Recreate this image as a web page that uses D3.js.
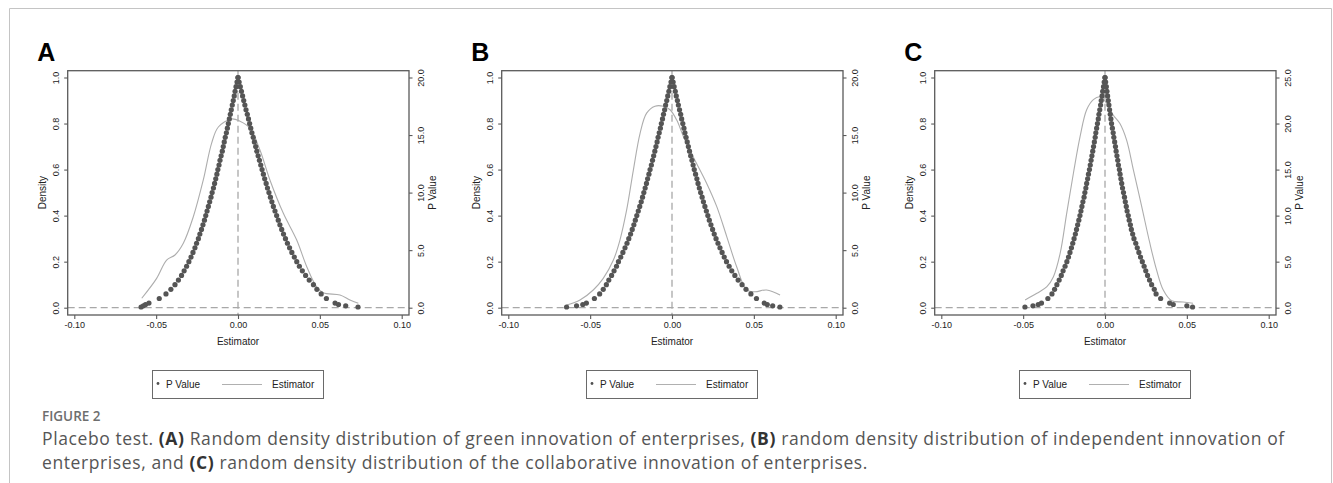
<!DOCTYPE html>
<html><head><meta charset="utf-8">
<script src="https://cdn.jsdelivr.net/npm/d3@7"></script>
<style>body{margin:0;background:#fff;}svg{display:block;}</style>
</head><body>
<svg id="c" width="1333" height="483"></svg>
<script>
// ---------------- data ----------------
const panelLabels = ["A", "B", "C"];
const xTicks = [-0.10, -0.05, 0.00, 0.05, 0.10];
const xTickLabels = ["-0.10", "-0.05", "0.00", "0.05", "0.10"];
const leftTicks = [0, 0.2, 0.4, 0.6, 0.8, 1.0];
const leftTickLabels = ["0.0", "0.2", "0.4", "0.6", "0.8", "1.0"];
const rightTicksAB = [0, 5, 10, 15, 20];
const rightTicksC = [0, 5, 10, 15, 20, 25];
const rightMax = [20, 20, 25];

// P values of the placebo regressions (shared levels); estimator values read off each branch
const pLevels = [0.003,0.008,0.014,0.02,0.04,0.06,0.08,0.10,0.12,0.14,0.16,0.18,0.20,0.22,0.24,0.26,0.28,0.30,0.32,0.34,0.36,0.38,0.40,0.42,0.44,0.46,0.48,0.50,0.52,0.54,0.56,0.58,0.60,0.62,0.64,0.66,0.68,0.70,0.72,0.74,0.76,0.78,0.80,0.82,0.84,0.86,0.88,0.90,0.92,0.94,0.96,0.98,1.00];

const estA_left = [-0.0592,-0.0578,-0.0565,-0.0544,-0.0481,-0.0440,-0.0410,-0.0385,-0.0364,-0.0345,-0.0329,-0.0314,-0.0300,-0.0287,-0.0275,-0.0263,-0.0253,-0.0242,-0.0233,-0.0223,-0.0214,-0.0205,-0.0197,-0.0189,-0.0181,-0.0173,-0.0165,-0.0158,-0.0150,-0.0143,-0.0136,-0.0129,-0.0123,-0.0116,-0.0110,-0.0103,-0.0096,-0.0090,-0.0084,-0.0078,-0.0071,-0.0065,-0.0059,-0.0053,-0.0047,-0.0041,-0.0035,-0.0029,-0.0023,-0.0018,-0.0012,-0.0006,0.0];
const estA_right = [0.0733,0.0658,0.0614,0.0593,0.0540,0.0508,0.0482,0.0461,0.0435,0.0413,0.0393,0.0375,0.0359,0.0344,0.0329,0.0315,0.0302,0.0290,0.0278,0.0267,0.0256,0.0246,0.0236,0.0226,0.0216,0.0207,0.0198,0.0189,0.0180,0.0172,0.0163,0.0155,0.0147,0.0139,0.0131,0.0123,0.0115,0.0108,0.0100,0.0093,0.0085,0.0078,0.0071,0.0064,0.0057,0.0049,0.0042,0.0035,0.0028,0.0021,0.0014,0.0007,0.0];

const estB_left = [-0.0644,-0.0583,-0.0545,-0.0523,-0.0474,-0.0442,-0.0420,-0.0401,-0.0386,-0.0369,-0.0354,-0.0339,-0.0327,-0.0313,-0.0300,-0.0287,-0.0275,-0.0264,-0.0253,-0.0243,-0.0233,-0.0224,-0.0215,-0.0206,-0.0197,-0.0188,-0.0180,-0.0172,-0.0164,-0.0156,-0.0149,-0.0141,-0.0134,-0.0126,-0.0119,-0.0112,-0.0105,-0.0098,-0.0091,-0.0085,-0.0078,-0.0071,-0.0065,-0.0058,-0.0052,-0.0045,-0.0039,-0.0032,-0.0026,-0.0019,-0.0013,-0.0006,0.0];
const estB_right = [0.0659,0.0615,0.0582,0.0563,0.0516,0.0482,0.0452,0.0428,0.0404,0.0384,0.0365,0.0349,0.0333,0.0319,0.0306,0.0293,0.0281,0.0269,0.0258,0.0248,0.0238,0.0228,0.0219,0.0210,0.0201,0.0192,0.0184,0.0175,0.0167,0.0159,0.0152,0.0144,0.0136,0.0129,0.0122,0.0114,0.0107,0.0100,0.0093,0.0086,0.0079,0.0073,0.0066,0.0059,0.0053,0.0046,0.0039,0.0033,0.0026,0.0020,0.0013,0.0007,0.0];

const estC_left = [-0.0489,-0.0440,-0.0408,-0.0388,-0.0349,-0.0324,-0.0308,-0.0294,-0.0280,-0.0267,-0.0256,-0.0244,-0.0233,-0.0223,-0.0214,-0.0205,-0.0197,-0.0189,-0.0181,-0.0174,-0.0167,-0.0160,-0.0153,-0.0147,-0.0141,-0.0135,-0.0128,-0.0123,-0.0117,-0.0112,-0.0106,-0.0101,-0.0095,-0.0090,-0.0085,-0.0080,-0.0075,-0.0070,-0.0065,-0.0060,-0.0056,-0.0051,-0.0046,-0.0041,-0.0037,-0.0032,-0.0027,-0.0023,-0.0018,-0.0014,-0.0009,-0.0005,0.0];
const estC_right = [0.0535,0.0500,0.0417,0.0395,0.0340,0.0312,0.0301,0.0285,0.0272,0.0260,0.0249,0.0239,0.0228,0.0217,0.0207,0.0197,0.0188,0.0177,0.0169,0.0161,0.0155,0.0148,0.0142,0.0135,0.0130,0.0124,0.0119,0.0113,0.0107,0.0102,0.0097,0.0092,0.0088,0.0082,0.0078,0.0073,0.0068,0.0064,0.0059,0.0054,0.0050,0.0045,0.0040,0.0036,0.0032,0.0028,0.0024,0.0020,0.0016,0.0012,0.0008,0.0004,0.0];

// Kernel density of the estimator (right axis)
const kdA_x = [-0.0588,-0.0497,-0.0436,-0.0385,-0.0334,-0.0273,-0.0212,-0.0161,-0.0120,-0.0039,0.0012,0.0073,0.0134,0.0195,0.0277,0.0358,0.0420,0.0480,0.0521,0.0623,0.0684,0.0735];
const kdA_y = [0.82,2.55,4.14,4.58,5.6,7.9,11.1,14.3,15.7,16.4,16.2,15.6,13.7,11.1,8.2,5.9,3.56,1.82,1.3,1.1,0.67,0.38];
const kdB_x = [-0.0643,-0.0562,-0.0481,-0.0420,-0.0358,-0.0318,-0.0277,-0.0236,-0.0195,-0.0155,-0.0104,-0.0053,-0.0012,0.0029,0.0069,0.0130,0.0212,0.0273,0.0334,0.0395,0.0456,0.0507,0.0578,0.0660];
const kdB_y = [0.23,0.67,1.54,2.55,4.14,5.88,8.49,11.96,15.15,16.9,17.5,17.5,17.2,16.3,14.9,13.1,10.8,8.8,6.2,3.56,1.54,1.39,1.54,1.1];
const kdC_x = [-0.0488,-0.0416,-0.0355,-0.0315,-0.0274,-0.0234,-0.0193,-0.0152,-0.0112,-0.0071,-0.0030,0.0010,0.0051,0.0091,0.0132,0.0173,0.0224,0.0274,0.0315,0.0356,0.0407,0.0477,0.0538];
const kdC_y = [0.84,1.56,2.28,3.37,5.9,10.25,14.6,18.6,21.5,22.6,22.9,22.2,20.9,20.0,18.2,15.0,11.0,7.0,4.1,1.92,0.76,0.62,0.48];

const captionTitle = "FIGURE 2";
const captionLine1 = [["Placebo test. ", false], ["(A)", true], [" Random density distribution of green innovation of enterprises, ", false], ["(B)", true], [" random density distribution of independent innovation of", false]];
const captionLine2 = [["enterprises, and ", false], ["(C)", true], [" random density distribution of the collaborative innovation of enterprises.", false]];

// ---------------- drawing ----------------
const svg = d3.select("#c");
const FONT = "'Liberation Sans', Arial, sans-serif";

svg.append("path").attr("d", "M9.5,483 V8.5 H1331.5 V483").attr("fill", "none").attr("stroke", "#c4c4c4").attr("stroke-width", 1);

const estLeft = [estA_left, estB_left, estC_left];
const estRight = [estA_right, estB_right, estC_right];
const kdX = [kdA_x, kdB_x, kdC_x];
const kdY = [kdA_y, kdB_y, kdC_y];

const frameW = 341.3, frameTop = 70.7, frameBot = 315;
const panelLeft = [67.7, 501.7, 934.7];

panelLabels.forEach((lab, i) => {
  const L = panelLeft[i], R = L + frameW;
  const g = svg.append("g");
  const x = d3.scaleLinear().domain([-0.10, 0.10]).range([L + 6.6, L + 6.6 + 327.4]);
  const yL = d3.scaleLinear().domain([0, 1]).range([307.7, 77.5]);
  const yR = d3.scaleLinear().domain([0, rightMax[i]]).range([307.7, 77.5]);

  svg.append("text").attr("x", L - 30.5).attr("y", 61).text(lab)
    .attr("font-family", FONT).attr("font-weight", "bold").attr("font-size", 25).attr("fill", "#000");

  g.append("line").attr("x1", L).attr("x2", R).attr("y1", yL(0)).attr("y2", yL(0))
    .attr("stroke", "#a8a8a8").attr("stroke-width", 1.3).attr("stroke-dasharray", "7,4");
  g.append("line").attr("x1", x(0)).attr("x2", x(0)).attr("y1", frameTop).attr("y2", frameBot)
    .attr("stroke", "#a8a8a8").attr("stroke-width", 1.3).attr("stroke-dasharray", "7,4");

  const pts = kdX[i].map((v, k) => [v, kdY[i][k]]);
  g.append("path").datum(pts)
    .attr("d", d3.line().x(d => x(d[0])).y(d => yR(d[1])).curve(d3.curveCatmullRom.alpha(0.5)))
    .attr("fill", "none").attr("stroke", "#adadad").attr("stroke-width", 1.1);

  const dots = [];
  pLevels.forEach((p, k) => { dots.push([estLeft[i][k], p]); dots.push([estRight[i][k], p]); });
  g.selectAll("circle.pv").data(dots).enter().append("circle")
    .attr("cx", d => x(d[0])).attr("cy", d => yL(d[1])).attr("r", 2.6).attr("fill", "#555");

  g.append("rect").attr("x", L).attr("y", frameTop).attr("width", frameW).attr("height", frameBot - frameTop)
    .attr("fill", "none").attr("stroke", "#5a5a5a").attr("stroke-width", 1.3);

  const xa = g.append("g").attr("transform", `translate(0,${frameBot})`)
    .call(d3.axisBottom(x).tickValues(xTicks).tickSize(4).tickFormat((d, k) => xTickLabels[k]));
  xa.select(".domain").remove();
  xa.selectAll("line").attr("stroke", "#5a5a5a").attr("stroke-width", 1.1);
  xa.selectAll("text").attr("font-family", FONT).attr("font-size", 9).attr("fill", "#222").attr("y", 7).attr("dy", "0.71em");

  g.append("text").attr("x", x(0)).attr("y", 344.5).attr("text-anchor", "middle").text("Estimator")
    .attr("font-family", FONT).attr("font-size", 10).attr("fill", "#222");

  const la = g.append("g").attr("transform", `translate(${L},0)`)
    .call(d3.axisLeft(yL).tickValues(leftTicks).tickSize(3.5).tickFormat((d, k) => leftTickLabels[k]));
  la.select(".domain").remove();
  la.selectAll("line").attr("stroke", "#5a5a5a").attr("stroke-width", 1.1);
  la.selectAll("text").attr("font-family", FONT).attr("font-size", 9).attr("fill", "#222")
    .attr("x", null).attr("dy", null).attr("text-anchor", "middle")
    .attr("transform", "translate(-8.3,0) rotate(-90)");

  g.append("text").attr("transform", `translate(${L - 22},${yL(0.5)}) rotate(-90)`).attr("text-anchor", "middle")
    .text("Density").attr("font-family", FONT).attr("font-size", 10).attr("fill", "#222");

  const rt = i === 2 ? rightTicksC : rightTicksAB;
  const ra = g.append("g").attr("transform", `translate(${R},0)`)
    .call(d3.axisRight(yR).tickValues(rt).tickSize(3.5).tickFormat(d3.format(".1f")));
  ra.select(".domain").remove();
  ra.selectAll("line").attr("stroke", "#5a5a5a").attr("stroke-width", 1.1);
  ra.selectAll("text").attr("font-family", FONT).attr("font-size", 9).attr("fill", "#222")
    .attr("x", null).attr("dy", null).attr("text-anchor", "middle")
    .attr("transform", "translate(14.5,0) rotate(-90)");

  g.append("text").attr("transform", `translate(${R + 27},${yL(0.5)}) rotate(-90)`).attr("text-anchor", "middle")
    .text("P Value").attr("font-family", FONT).attr("font-size", 10).attr("fill", "#222");

  const lg = g.append("g").attr("transform", `translate(${L + 84.3},370)`);
  lg.append("rect").attr("x", 0.5).attr("y", 0.5).attr("width", 171).attr("height", 28)
    .attr("fill", "#fff").attr("stroke", "#6a6a6a").attr("stroke-width", 1);
  lg.append("circle").attr("cx", 6).attr("cy", 13.5).attr("r", 1.4).attr("fill", "#505050");
  lg.append("text").attr("x", 14).attr("y", 18).text("P Value").attr("font-family", FONT).attr("font-size", 10).attr("fill", "#222");
  lg.append("line").attr("x1", 70).attr("x2", 110).attr("y1", 14.5).attr("y2", 14.5).attr("stroke", "#b0b0b0").attr("stroke-width", 1.1);
  lg.append("text").attr("x", 120).attr("y", 18).text("Estimator").attr("font-family", FONT).attr("font-size", 10).attr("fill", "#222");
});

const CF = "'Open Sans', 'Noto Sans', sans-serif";
svg.append("text").attr("x", 42).attr("y", 421).text(captionTitle)
  .attr("font-family", CF).attr("font-size", 13.5).attr("font-weight", 600).attr("fill", "#6e6e6e");
function capLine(parts, y) {
  const t = svg.append("text").attr("x", 42).attr("y", y).attr("font-family", CF).attr("font-size", 17.5)
    .attr("letter-spacing", 0.6).attr("fill", "#555");
  parts.forEach(([s, b]) => t.append("tspan").text(s).attr("font-weight", b ? 700 : 400).attr("fill", b ? "#333" : "#555"));
}
capLine(captionLine1, 445);
capLine(captionLine2, 469);
</script>
</body></html>
